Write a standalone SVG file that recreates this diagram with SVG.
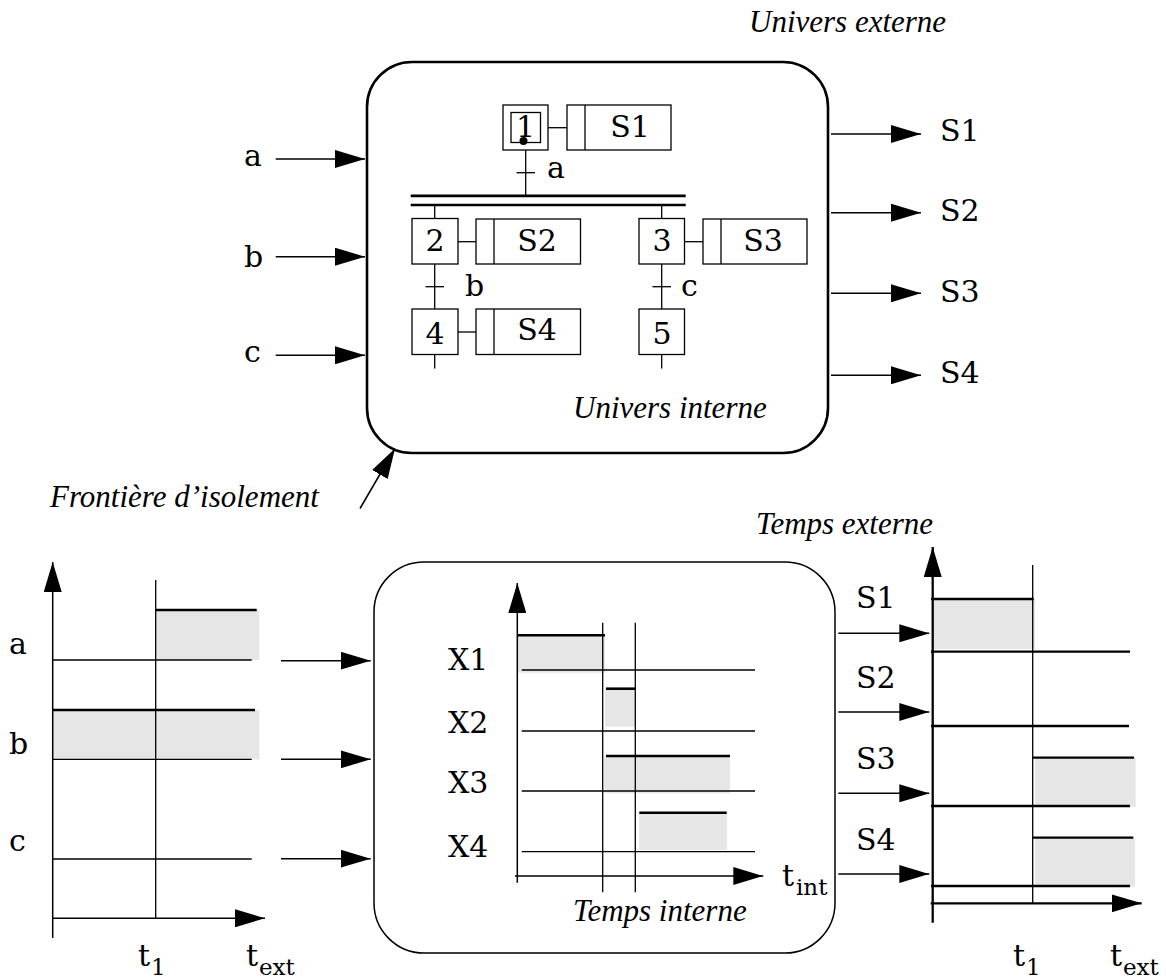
<svg xmlns="http://www.w3.org/2000/svg" width="1166" height="978" viewBox="0 0 1166 978">
<style>
.t{font-family:"DejaVu Serif","Liberation Serif",serif;font-size:30px;fill:#000}
.ts{font-family:"DejaVu Serif","Liberation Serif",serif;font-size:23px;fill:#000}
.it{font-family:"Liberation Serif","Times New Roman",serif;font-style:italic;font-size:31px;fill:#000}
.box{fill:#fff;stroke:#000;stroke-width:1.3}
.ln{stroke:#000;stroke-width:1.3;fill:none}
.hi{stroke:#000;stroke-width:2.6;fill:none}
.th{stroke:#000;stroke-width:2.3;fill:none}
.ar{stroke:#000;stroke-width:1.5;fill:none;marker-end:url(#ah)}
.gr{fill:#e6e6e6;stroke:none}
</style>
<defs>
<marker id="ah" viewBox="0 0 30 18" markerWidth="30" markerHeight="18" refX="30" refY="9" orient="auto" markerUnits="userSpaceOnUse">
<path d="M0,0 L30,9 L0,18 z" fill="#000"/>
</marker>
</defs>

<!-- Top: isolation boundary -->
<g id="frontiere">
<rect x="367" y="62" width="461" height="391" rx="45" ry="45" fill="none" stroke="#000" stroke-width="2.6"/>
</g>
<text class="it" x="749" y="32">Univers externe</text>
<text class="it" x="573" y="418">Univers interne</text>
<text class="it" x="50" y="507">Frontière d’isolement</text>

<!-- GRAFCET -->
<g id="step1">
<rect class="box" x="503" y="105" width="45" height="45"/>
<rect class="box" x="511" y="112.5" width="29.5" height="30"/>
<text class="t" x="525.5" y="137" text-anchor="middle">1</text>
<circle cx="523.5" cy="141" r="4" fill="#000"/>
</g>
<g id="action1">
<rect class="box" x="567" y="105" width="104" height="45"/>
<line class="ln" x1="585" y1="105" x2="585" y2="150"/>
<text class="t" x="630" y="137" text-anchor="middle">S1</text>
</g>
<g id="step2">
<rect class="box" x="412" y="218.5" width="46" height="45.5"/>
<text class="t" x="435" y="251" text-anchor="middle">2</text>
</g>
<g id="action2">
<rect class="box" x="476" y="219" width="104.5" height="45"/>
<line class="ln" x1="494" y1="219" x2="494" y2="264"/>
<text class="t" x="537" y="251" text-anchor="middle">S2</text>
</g>
<g id="step3">
<rect class="box" x="639" y="218.5" width="45.5" height="45.5"/>
<text class="t" x="662" y="251" text-anchor="middle">3</text>
</g>
<g id="action3">
<rect class="box" x="703" y="219" width="104" height="45"/>
<line class="ln" x1="721" y1="219" x2="721" y2="264"/>
<text class="t" x="763" y="251" text-anchor="middle">S3</text>
</g>
<g id="step4">
<rect class="box" x="412" y="309" width="46" height="45.5"/>
<text class="t" x="435" y="344" text-anchor="middle">4</text>
</g>
<g id="action4">
<rect class="box" x="476" y="309" width="104.5" height="45.5"/>
<line class="ln" x1="494" y1="309" x2="494" y2="354.5"/>
<text class="t" x="537" y="340" text-anchor="middle">S4</text>
</g>
<g id="step5">
<rect class="box" x="639" y="309" width="45.5" height="45.5"/>
<text class="t" x="662" y="344" text-anchor="middle">5</text>
</g>

<g id="grafcet-links">
<line class="ln" x1="548" y1="127.7" x2="567" y2="127.7"/>
<line class="ln" x1="458" y1="241.7" x2="476" y2="241.7"/>
<line class="ln" x1="684.5" y1="241.7" x2="703" y2="241.7"/>
<line class="ln" x1="458" y1="332" x2="476" y2="332"/>
<line class="ln" x1="525.7" y1="150" x2="525.7" y2="196"/>
<line class="ln" x1="516.5" y1="172.7" x2="535" y2="172.7"/>
<line x1="410.7" y1="195.8" x2="685.7" y2="195.8" stroke="#000" stroke-width="2.7"/>
<line x1="410.7" y1="205" x2="685.7" y2="205" stroke="#000" stroke-width="2.7"/>
<line class="ln" x1="434.7" y1="205" x2="434.7" y2="218.5"/>
<line class="ln" x1="661.7" y1="205" x2="661.7" y2="218.5"/>
<line class="ln" x1="434.7" y1="264" x2="434.7" y2="309"/>
<line class="ln" x1="425.5" y1="286.7" x2="444" y2="286.7"/>
<line class="ln" x1="661.7" y1="264" x2="661.7" y2="309"/>
<line class="ln" x1="652.5" y1="286.7" x2="671" y2="286.7"/>
<line class="ln" x1="434.7" y1="354.5" x2="434.7" y2="368.5"/>
<line class="ln" x1="661.7" y1="354.5" x2="661.7" y2="368.5"/>
<text class="t" x="547" y="178">a</text>
<text class="t" x="465" y="296">b</text>
<text class="t" x="681" y="296">c</text>
</g>

<!-- Top inputs / outputs -->
<g id="top-labels">
<text class="t" x="244" y="166">a</text>
<text class="t" x="244" y="267">b</text>
<text class="t" x="244" y="362">c</text>
<text class="t" x="940" y="141">S1</text>
<text class="t" x="940" y="221">S2</text>
<text class="t" x="940" y="302">S3</text>
<text class="t" x="940" y="383">S4</text>
</g>

<!-- Bottom left chart -->
<g id="chart-inputs">
<rect class="gr" x="155.7" y="610" width="103.6" height="50"/>
<rect class="gr" x="52.7" y="710" width="206.6" height="49.3"/>
<line class="ln" x1="155.7" y1="580" x2="155.7" y2="918.3"/>
<line class="hi" x1="155.7" y1="610" x2="256.7" y2="610"/>
<line class="ln" x1="52.7" y1="660" x2="251.7" y2="660"/>
<line class="hi" x1="52.7" y1="710" x2="255" y2="710"/>
<line class="ln" x1="52.7" y1="759.3" x2="251.7" y2="759.3"/>
<line class="ln" x1="52.7" y1="859" x2="251.7" y2="859"/>
<line class="ar" x1="52.7" y1="938" x2="52.7" y2="562"/>
<line class="ar" x1="52.7" y1="918.3" x2="265" y2="918.3"/>
<text class="t" x="9" y="654">a</text>
<text class="t" x="9" y="754">b</text>
<text class="t" x="9" y="851">c</text>
<text class="t" x="138" y="966">t</text><text class="ts" x="151" y="975">1</text>
<text class="t" x="246" y="966">t</text><text class="ts" x="259" y="975">ext</text>
</g>

<!-- Middle chart -->
<g id="chart-internal">
<rect x="374" y="562" width="461" height="391" rx="50" ry="50" fill="none" stroke="#000" stroke-width="1.5"/>
<rect class="gr" x="518" y="635.3" width="87" height="37.4"/>
<rect class="gr" x="605" y="688.7" width="30.5" height="38"/>
<rect class="gr" x="604.3" y="756" width="125.7" height="37.3"/>
<rect class="gr" x="639.3" y="812.7" width="87.7" height="37.3"/>
<line class="ln" x1="602.7" y1="622.7" x2="602.7" y2="892.3"/>
<line class="ln" x1="635.3" y1="622.7" x2="635.3" y2="892.3"/>
<line class="hi" x1="517.3" y1="635.3" x2="605" y2="635.3"/>
<line class="ln" x1="521.7" y1="670" x2="755" y2="670"/>
<line class="hi" x1="606" y1="688.7" x2="635.7" y2="688.7"/>
<line class="ln" x1="521.7" y1="731" x2="755" y2="731"/>
<line class="hi" x1="606" y1="756" x2="730" y2="756"/>
<line class="ln" x1="521.7" y1="791" x2="755" y2="791"/>
<line class="hi" x1="639.3" y1="812.7" x2="726.7" y2="812.7"/>
<line class="ln" x1="521.7" y1="851.7" x2="755" y2="851.7"/>
<line class="ar" x1="517.3" y1="882.7" x2="517.3" y2="583"/>
<line class="ar" x1="515" y1="876" x2="763.3" y2="876"/>
<text class="t" x="448" y="670">X1</text>
<text class="t" x="448" y="733">X2</text>
<text class="t" x="448" y="793">X3</text>
<text class="t" x="448" y="857">X4</text>
<text class="it" x="573" y="921">Temps interne</text>
<text class="t" x="782" y="886">t</text><text class="ts" x="796" y="895">int</text>
</g>

<!-- Right chart -->
<g id="chart-outputs">
<rect class="gr" x="932.7" y="599" width="102.3" height="50"/>
<rect class="gr" x="1035" y="757.7" width="100.7" height="49"/>
<rect class="gr" x="1035" y="837.7" width="100" height="49"/>
<line class="ln" x1="1032.7" y1="565" x2="1032.7" y2="903.3"/>
<line class="th" x1="931" y1="599" x2="1033.7" y2="599"/>
<line class="th" x1="931" y1="651.7" x2="1130" y2="651.7"/>
<line class="th" x1="931" y1="726" x2="1129" y2="726"/>
<line class="th" x1="1032.7" y1="757.7" x2="1134" y2="757.7"/>
<line class="th" x1="931" y1="806" x2="1130" y2="806"/>
<line class="th" x1="1032.7" y1="837.7" x2="1133.3" y2="837.7"/>
<line class="th" x1="931" y1="886" x2="1130" y2="886"/>
<line x1="932.7" y1="922.7" x2="932.7" y2="547" stroke="#000" stroke-width="2.3" marker-end="url(#ah)"/>
<line x1="930.7" y1="903.3" x2="1141.7" y2="903.3" stroke="#000" stroke-width="2.3" marker-end="url(#ah)"/>
<text class="t" x="856" y="608">S1</text>
<text class="t" x="856" y="688">S2</text>
<text class="t" x="856" y="769">S3</text>
<text class="t" x="856" y="850">S4</text>
<text class="it" x="756" y="534">Temps externe</text>
<text class="t" x="1013" y="966">t</text><text class="ts" x="1026" y="975">1</text>
<text class="t" x="1110" y="966">t</text><text class="ts" x="1123" y="975">ext</text>
</g>

<!-- Connectors -->
<g id="connectors">
<line class="ar" x1="275.7" y1="159" x2="365" y2="159"/>
<line class="ar" x1="275.7" y1="256.7" x2="365" y2="256.7"/>
<line class="ar" x1="275.7" y1="355.3" x2="365" y2="355.3"/>
<line class="ar" x1="831" y1="134" x2="921" y2="134"/>
<line class="ar" x1="831" y1="212.7" x2="921" y2="212.7"/>
<line class="ar" x1="831" y1="293.3" x2="921" y2="293.3"/>
<line class="ar" x1="831" y1="375.3" x2="921" y2="375.3"/>
<line class="ar" x1="360" y1="508.5" x2="395" y2="448.5"/>
<line class="ar" x1="281" y1="660.7" x2="370.7" y2="660.7"/>
<line class="ar" x1="281" y1="759.3" x2="370.7" y2="759.3"/>
<line class="ar" x1="281" y1="858.7" x2="370.7" y2="858.7"/>
<line class="ar" x1="838.3" y1="633.3" x2="929.3" y2="633.3"/>
<line class="ar" x1="838.3" y1="712" x2="929.3" y2="712"/>
<line class="ar" x1="838.3" y1="793.3" x2="929.3" y2="793.3"/>
<line class="ar" x1="838.3" y1="874" x2="929.3" y2="874"/>
</g>
</svg>
